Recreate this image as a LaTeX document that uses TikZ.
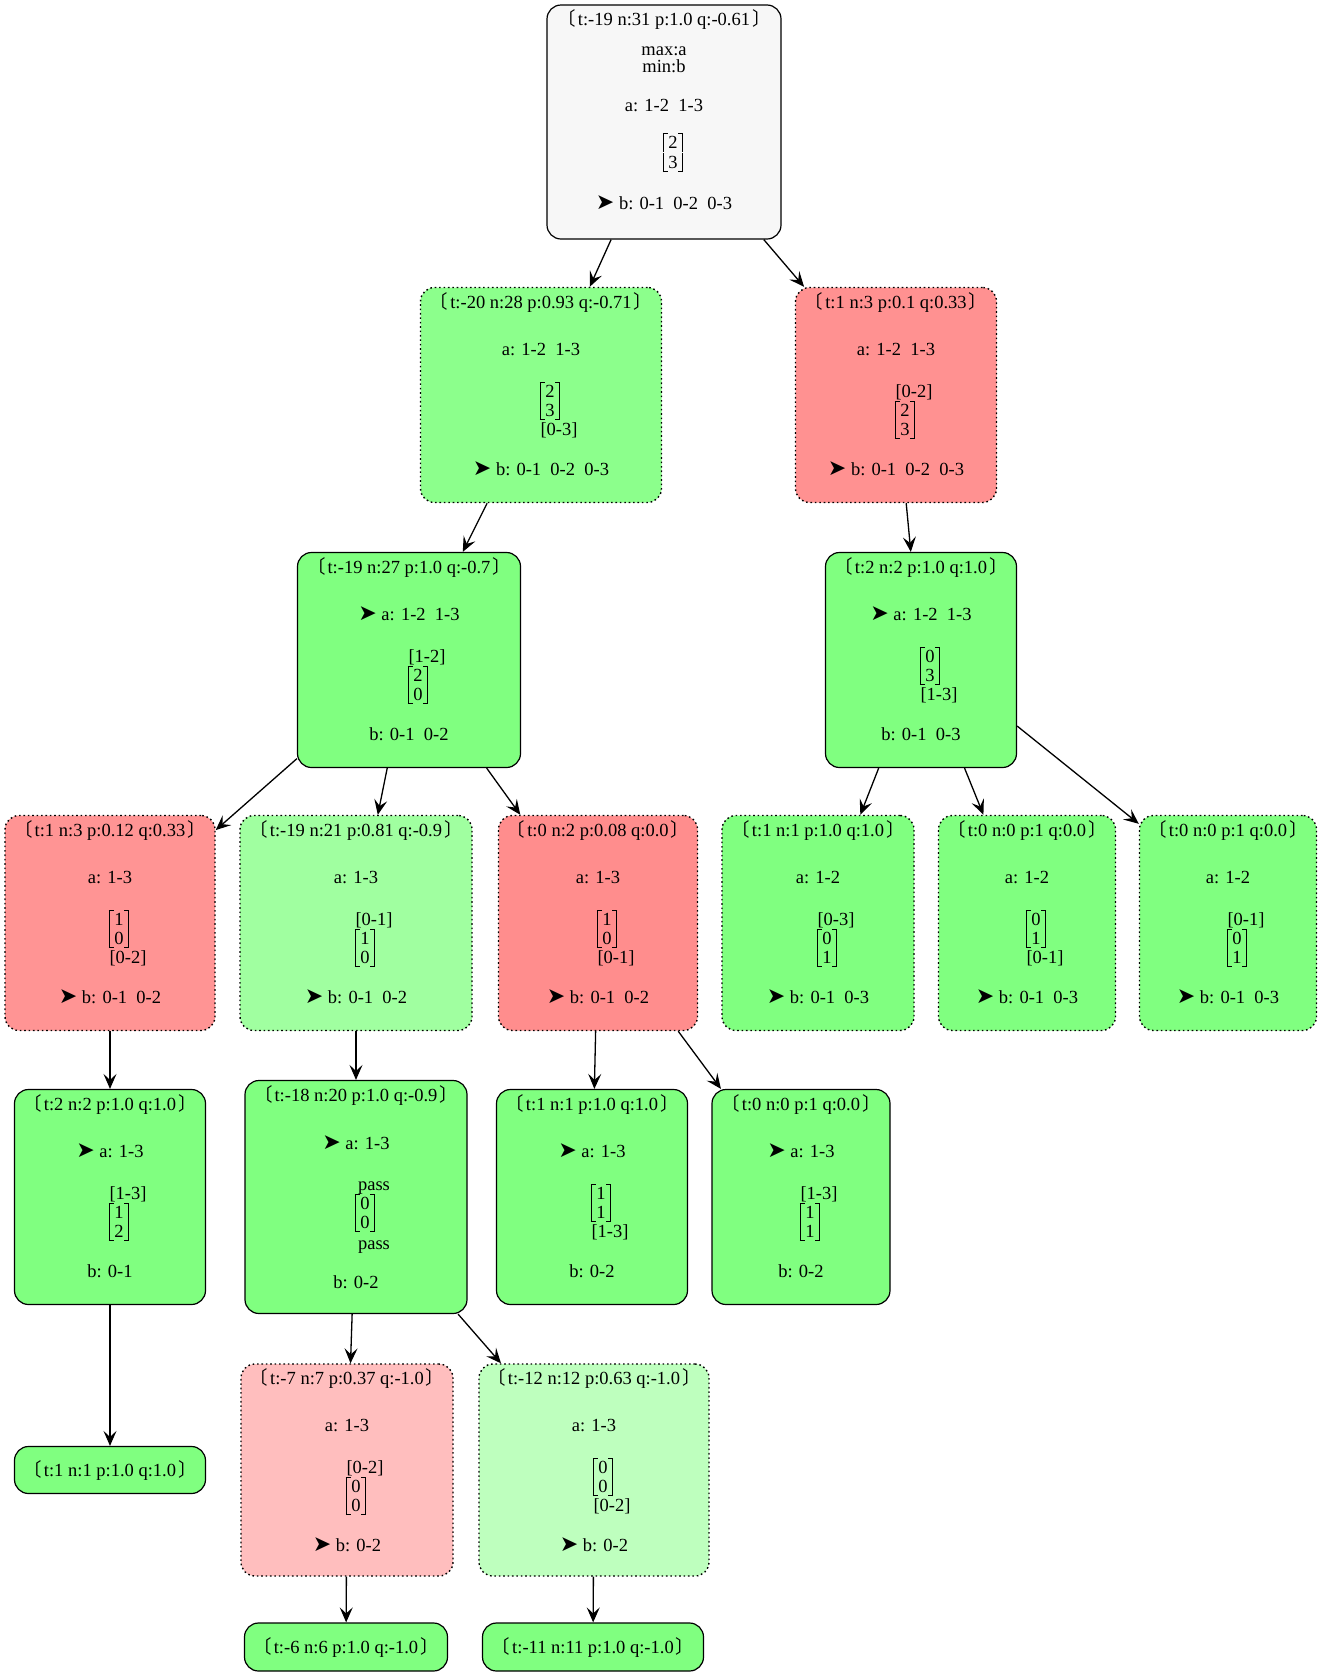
\documentclass[tikz,border=0pt]{standalone}
\usepackage{fontspec}
\setmainfont{Liberation Serif}
\newfontfamily\cjk{Noto Sans CJK SC}
\newfontfamily\djv{DejaVu Sans}
\usetikzlibrary{arrows.meta}
\definecolor{RootClr}{HTML}{F7F7F7}
\definecolor{GreenClr}{HTML}{80FF80}
\definecolor{GreenA}{HTML}{8CFF8C}
\definecolor{GreenB}{HTML}{A0FFA0}
\definecolor{GreenC}{HTML}{BEFFBE}
\definecolor{RedA}{HTML}{FF9191}
\definecolor{RedB}{HTML}{FF9494}
\definecolor{RedC}{HTML}{FF8D8D}
\definecolor{RedD}{HTML}{FFBEBE}
\newcommand\hd[1]{\rule{0pt}{17pt}{\cjk 〔}\kern2pt#1\kern2pt{\cjk 〕}}
\newcommand\mv{{\djv\fontsize{22}{19}\selectfont ➤}\ }
\newcommand\lb[1]{\makebox[0pt]{\hspace*{36pt}#1}}
\newcommand\mtop[1]{\smash{\makebox[0pt]{\hspace*{18pt}\vrule height 15.5pt depth 3.5pt width .9pt\kern-.9pt\vrule height 15.5pt depth -14.6pt width 5pt\kern.5pt#1\kern.5pt\vrule height 15.5pt depth -14.6pt width 5pt\kern-.9pt\vrule height 15.5pt depth 3.5pt width .9pt}}}
\newcommand\mbot[1]{\smash{\makebox[0pt]{\hspace*{18pt}\vrule height 15.5pt depth 3.5pt width .9pt\kern-.9pt\vrule height -2.6pt depth 3.5pt width 5pt\kern.5pt#1\kern.5pt\vrule height -2.6pt depth 3.5pt width 5pt\kern-.9pt\vrule height 15.5pt depth 3.5pt width .9pt}}}

\begin{document}
\begin{tikzpicture}[x=1pt,y=-1pt,
  font=\fontsize{18.5}{19}\selectfont,
  box/.style={draw,line width=1.2pt,rounded corners=14pt,inner sep=0pt},
  dotbox/.style={box,line width=1.4pt,dash pattern=on 1.6pt off 2.8pt},
  txt/.style={anchor=north,align=center,inner sep=0pt,yshift=-4pt},
  edge/.style={line width=1.3pt,-{Stealth[length=15pt,width=13pt,inset=6pt]}}]
\useasboundingbox (0,0) rectangle (1322,1679);

\node[box,fill=RootClr,minimum width=234pt,minimum height=234pt] (root) at (664,122) {};
\node[txt] (root-t) at (root.north) {\hd{t:-19 n:31 p:1.0 q:-0.61}\\[11pt] max:a\\[-2.5pt] min:b\\[20.5pt] a: 1-2\ \ 1-3\\[18pt] \mtop{2}\\[1pt] \mbot{3}\\[22pt] \mv b: 0-1\ \ 0-2\ \ 0-3};

\node[dotbox,fill=GreenA,minimum width=241pt,minimum height=215pt] (n1) at (541,395) {};
\node[txt] (n1-t) at (n1.north) {\hd{t:-20 n:28 p:0.93 q:-0.71}\\[28pt] a: 1-2\ \ 1-3\\[23pt] \mtop{2}\\ \mbot{3}\\ \lb{[0-3]}\\[21pt] \mv b: 0-1\ \ 0-2\ \ 0-3};
\node[dotbox,fill=RedA,minimum width=201pt,minimum height=215pt] (n2) at (896,395) {};
\node[txt] (n2-t) at (n2.north) {\hd{t:1 n:3 p:0.1 q:0.33}\\[28pt] a: 1-2\ \ 1-3\\[23pt] \lb{[0-2]}\\ \mtop{2}\\ \mbot{3}\\[21pt] \mv b: 0-1\ \ 0-2\ \ 0-3};

\node[box,fill=GreenClr,minimum width=223pt,minimum height=215pt] (n3) at (409,660) {};
\node[txt] (n3-t) at (n3.north) {\hd{t:-19 n:27 p:1.0 q:-0.7}\\[28pt] \mv a: 1-2\ \ 1-3\\[23pt] \lb{[1-2]}\\ \mtop{2}\\ \mbot{0}\\[21pt] b: 0-1\ \ 0-2};
\node[box,fill=GreenClr,minimum width=191pt,minimum height=215pt] (n4) at (921,660) {};
\node[txt] (n4-t) at (n4.north) {\hd{t:2 n:2 p:1.0 q:1.0}\\[28pt] \mv a: 1-2\ \ 1-3\\[23pt] \mtop{0}\\ \mbot{3}\\ \lb{[1-3]}\\[21pt] b: 0-1\ \ 0-3};

\node[dotbox,fill=RedB,minimum width=210pt,minimum height=215pt] (n5) at (110,923) {};
\node[txt] (n5-t) at (n5.north) {\hd{t:1 n:3 p:0.12 q:0.33}\\[28pt] a: 1-3\\[23pt] \mtop{1}\\ \mbot{0}\\ \lb{[0-2]}\\[21pt] \mv b: 0-1\ \ 0-2};
\node[dotbox,fill=GreenB,minimum width=232pt,minimum height=215pt] (n6) at (356,923) {};
\node[txt] (n6-t) at (n6.north) {\hd{t:-19 n:21 p:0.81 q:-0.9}\\[28pt] a: 1-3\\[23pt] \lb{[0-1]}\\ \mtop{1}\\ \mbot{0}\\[21pt] \mv b: 0-1\ \ 0-2};
\node[dotbox,fill=RedC,minimum width=199pt,minimum height=215pt] (n7) at (598,923) {};
\node[txt] (n7-t) at (n7.north) {\hd{t:0 n:2 p:0.08 q:0.0}\\[28pt] a: 1-3\\[23pt] \mtop{1}\\ \mbot{0}\\ \lb{[0-1]}\\[21pt] \mv b: 0-1\ \ 0-2};
\node[dotbox,fill=GreenClr,minimum width=192pt,minimum height=215pt] (n8) at (818,923) {};
\node[txt] (n8-t) at (n8.north) {\hd{t:1 n:1 p:1.0 q:1.0}\\[28pt] a: 1-2\\[23pt] \lb{[0-3]}\\ \mtop{0}\\ \mbot{1}\\[21pt] \mv b: 0-1\ \ 0-3};
\node[dotbox,fill=GreenClr,minimum width=177pt,minimum height=215pt] (n9) at (1027,923) {};
\node[txt] (n9-t) at (n9.north) {\hd{t:0 n:0 p:1 q:0.0}\\[28pt] a: 1-2\\[23pt] \mtop{0}\\ \mbot{1}\\ \lb{[0-1]}\\[21pt] \mv b: 0-1\ \ 0-3};
\node[dotbox,fill=GreenClr,minimum width=177pt,minimum height=215pt] (n10) at (1228,923) {};
\node[txt] (n10-t) at (n10.north) {\hd{t:0 n:0 p:1 q:0.0}\\[28pt] a: 1-2\\[23pt] \lb{[0-1]}\\ \mtop{0}\\ \mbot{1}\\[21pt] \mv b: 0-1\ \ 0-3};

\node[box,fill=GreenClr,minimum width=191pt,minimum height=215pt] (n11) at (110,1197) {};
\node[txt] (n11-t) at (n11.north) {\hd{t:2 n:2 p:1.0 q:1.0}\\[28pt] \mv a: 1-3\\[23pt] \lb{[1-3]}\\ \mtop{1}\\ \mbot{2}\\[21pt] b: 0-1};
\node[box,fill=GreenClr,minimum width=222pt,minimum height=233pt] (n12) at (356,1197) {};
\node[txt] (n12-t) at (n12.north) {\hd{t:-18 n:20 p:1.0 q:-0.9}\\[29pt] \mv a: 1-3\\[22pt] \lb{pass}\\ \mtop{0}\\ \mbot{0}\\[2pt] \lb{pass}\\[20pt] b: 0-2};
\node[box,fill=GreenClr,minimum width=191pt,minimum height=215pt] (n13) at (592,1197) {};
\node[txt] (n13-t) at (n13.north) {\hd{t:1 n:1 p:1.0 q:1.0}\\[28pt] \mv a: 1-3\\[23pt] \mtop{1}\\ \mbot{1}\\ \lb{[1-3]}\\[21pt] b: 0-2};
\node[box,fill=GreenClr,minimum width=178pt,minimum height=215pt] (n14) at (801,1197) {};
\node[txt] (n14-t) at (n14.north) {\hd{t:0 n:0 p:1 q:0.0}\\[28pt] \mv a: 1-3\\[23pt] \lb{[1-3]}\\ \mtop{1}\\ \mbot{1}\\[21pt] b: 0-2};

\node[box,fill=GreenClr,minimum width=191pt,minimum height=47pt] (n15) at (110,1470) {\hd{t:1 n:1 p:1.0 q:1.0}};
\node[dotbox,fill=RedD,minimum width=212pt,minimum height=212pt] (n16) at (347,1470) {};
\node[txt] (n16-t) at (n16.north) {\hd{t:-7 n:7 p:0.37 q:-1.0}\\[28pt] a: 1-3\\[23pt] \lb{[0-2]}\\ \mtop{0}\\ \mbot{0}\\[21pt] \mv b: 0-2};
\node[dotbox,fill=GreenC,minimum width=230pt,minimum height=212pt] (n17) at (594,1470) {};
\node[txt] (n17-t) at (n17.north) {\hd{t:-12 n:12 p:0.63 q:-1.0}\\[28pt] a: 1-3\\[23pt] \mtop{0}\\ \mbot{0}\\ \lb{[0-2]}\\[21pt] \mv b: 0-2};

\node[box,fill=GreenClr,minimum width=203pt,minimum height=48pt] (n18) at (346,1647) {\hd{t:-6 n:6 p:1.0 q:-1.0}};
\node[box,fill=GreenClr,minimum width=221pt,minimum height=48pt] (n19) at (593,1647) {\hd{t:-11 n:11 p:1.0 q:-1.0}};

\draw[edge] (root) -- (n1);
\draw[edge] (root) -- (n2);
\draw[edge] (n1) -- (n3);
\draw[edge] (n2) -- (n4);
\draw[edge] (n3) -- (n5);
\draw[edge] (n3) -- (n6);
\draw[edge] (n3) -- (n7);
\draw[edge] (n4) -- (n8);
\draw[edge] (n4) -- (n9);
\draw[edge] ([yshift=-66pt]n4.east) -- ([yshift=-9pt]n10.north west);
\draw[edge] (n5) -- (n11);
\draw[edge] (n6) -- (n12);
\draw[edge] (n7) -- (n13);
\draw[edge] (n7) -- (n14);
\draw[edge] (n11) -- (n15);
\draw[edge] (n12) -- (n16);
\draw[edge] (n12) -- (n17);
\draw[edge] (n16) -- (n18);
\draw[edge] (n17) -- (n19);
\end{tikzpicture}
\end{document}
